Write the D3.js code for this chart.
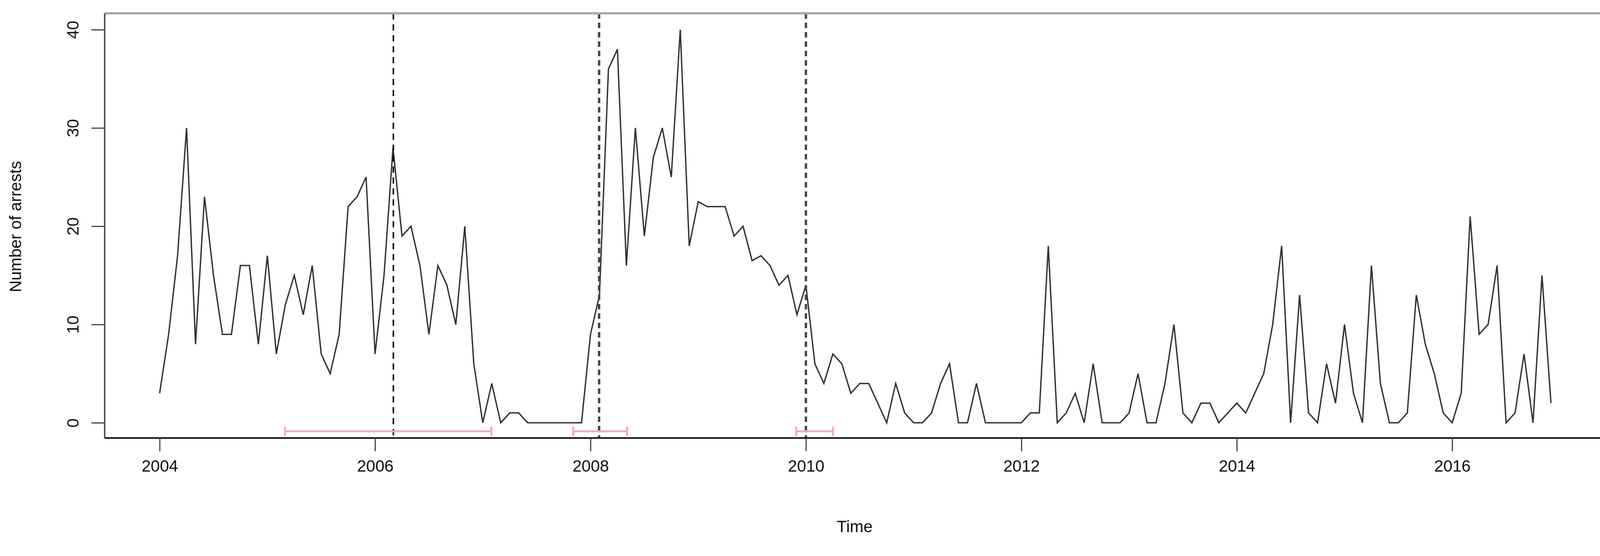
<!DOCTYPE html>
<html><head><meta charset="utf-8">
<script src="https://cdn.jsdelivr.net/npm/d3@7"></script>
<style>body{margin:0;background:#fff}</style></head>
<body><svg id="c" width="4145" height="1423"></svg>
<script>
const startYear = 2004;
const arrests = [
 3,9,17,30,8,23,15,9,9,16,16,8,
 17,7,12,15,11,16,7,5,9,22,23,25,
 7,15,28,19,20,16,9,16,14,10,20,6,
 0,4,0,1,1,0,0,0,0,0,0,0,
 9,13,36,38,16,30,19,27,30,25,40,18,
 22.5,22,22,22,19,20,16.5,17,16,14,15,11,
 14,6,4,7,6,3,4,4,2,0,4,1,
 0,0,1,4,6,0,0,4,0,0,0,0,
 0,1,1,18,0,1,3,0,6,0,0,0,
 1,5,0,0,4,10,1,0,2,2,0,1,
 2,1,3,5,10,18,0,13,1,0,6,2,
 10,3,0,16,4,0,0,1,13,8,5,1,
 0,3,21,9,10,16,0,1,7,0,15,2
];
const breakLines = [2006.17, 2008.08, 2010.0];
const intervals = [[2005.165, 2007.08], [2007.84, 2008.34], [2009.91, 2010.25]];
const xTicks = [2004, 2006, 2008, 2010, 2012, 2014, 2016];
const yTicks = [0, 10, 20, 30, 40];

const L=268, R=4112, T=34, B=1121;
const x = d3.scaleLinear().domain([2003.49, 2017.43]).range([L, R]);
const y = d3.scaleLinear().domain([-1.55, 41.67]).range([B, T]);
const svg = d3.select("#c");
const font = "Liberation Sans, Arial, sans-serif";

const data = arrests.map((v,i)=>({t:startYear+i/12, v}));
svg.append("path").datum(data).attr("fill","none").attr("stroke","#333").attr("stroke-width",3.5)
  .attr("d", d3.line().x(d=>x(d.t)).y(d=>y(d.v)));

breakLines.forEach((b,i)=>svg.append("line").attr("x1",x(b)).attr("x2",x(b)).attr("y1",T).attr("y2",B)
  .attr("stroke", i==0?"#111":"#444").attr("stroke-width", i==0?4:6).attr("stroke-dasharray", i==0?"16,12":"14,10"));

const yc = y(-0.87);
intervals.forEach(([a,b])=>{
  const g = svg.append("g").attr("stroke","#f2a9b8").attr("stroke-width",5);
  g.append("line").attr("x1",x(a)).attr("x2",x(b)).attr("y1",yc).attr("y2",yc);
  [a,b].forEach(e=>g.append("line").attr("x1",x(e)).attr("x2",x(e)).attr("y1",yc-12).attr("y2",yc+12));
});

// frame
svg.append("line").attr("x1",L).attr("x2",R).attr("y1",T).attr("y2",T).attr("stroke","#aaa").attr("stroke-width",6);
svg.append("line").attr("x1",R).attr("x2",R).attr("y1",T).attr("y2",B).attr("stroke","#888").attr("stroke-width",3);
svg.append("line").attr("x1",L).attr("x2",L).attr("y1",T).attr("y2",B).attr("stroke","#555").attr("stroke-width",4);
svg.append("line").attr("x1",L).attr("x2",R).attr("y1",B).attr("y2",B).attr("stroke","#111").attr("stroke-width",4);

const xa = svg.append("g").attr("transform",`translate(0,${B})`)
  .call(d3.axisBottom(x).tickValues(xTicks).tickFormat(d3.format("d")).tickSize(34).tickPadding(22));
xa.select(".domain").remove();
xa.selectAll("line").attr("stroke","#444").attr("stroke-width",3);
xa.selectAll("text").attr("font-size",42).attr("font-family",font).attr("fill","#111");

const ya = svg.append("g").attr("transform",`translate(${L},0)`)
  .call(d3.axisLeft(y).tickValues(yTicks).tickSize(34).tickPadding(0));
ya.select(".domain").remove();
ya.selectAll("line").attr("stroke","#444").attr("stroke-width",3);
ya.selectAll("text").attr("font-size",42).attr("font-family",font).attr("fill","#111")
  .attr("text-anchor","middle").attr("transform","translate(-82,0) rotate(-90)").attr("x",0).attr("dy","0.35em");

svg.append("text").attr("x",2188).attr("y",1362).attr("text-anchor","middle").attr("font-size",42)
  .attr("font-family",font).attr("fill","#111").text("Time");
svg.append("text").attr("transform","translate(54,580) rotate(-90)").attr("text-anchor","middle").attr("font-size",42)
  .attr("font-family",font).attr("fill","#111").text("Number of arrests");
</script></body></html>
